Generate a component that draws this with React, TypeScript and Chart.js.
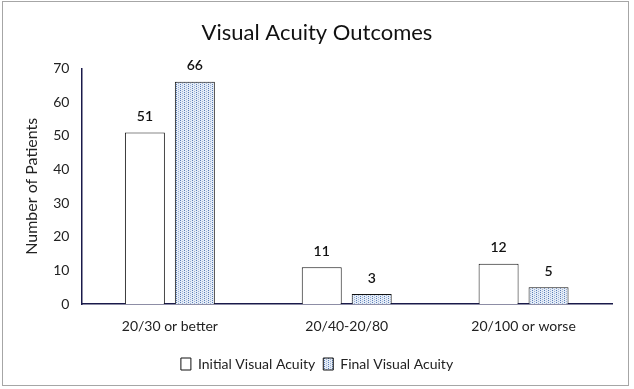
import React, { useEffect, useRef } from "react";
import { Chart, registerables } from "chart.js";

Chart.register(...registerables);

const categories = ["20/30 or better", "20/40-20/80", "20/100 or worse"];
const initialValues = [51, 11, 12];
const finalValues = [66, 3, 5];
const seriesNames = ["Initial Visual Acuity", "Final Visual Acuity"];
const yTicks = [0, 10, 20, 30, 40, 50, 60, 70];

const FONT = "Lato, 'Open Sans', sans-serif";

function makePattern(): CanvasPattern | string {
  const c = document.createElement("canvas");
  c.width = 4;
  c.height = 4;
  const g = c.getContext("2d");
  if (!g) return "#dce6f2";
  g.fillStyle = "#e4ecf6";
  g.fillRect(0, 0, 4, 4);
  g.fillStyle = "#5b7db8";
  g.fillRect(0, 0, 1, 1);
  g.fillRect(0, 2, 1, 1);
  g.fillStyle = "#9fb4d8";
  g.fillRect(2, 1, 1, 1);
  g.fillRect(2, 3, 1, 1);
  const p = g.createPattern(c, "repeat");
  return p || "#dce6f2";
}

const labelPlugin = {
  id: "valueLabels",
  afterDatasetsDraw(chart: any) {
    const ctx = chart.ctx;
    ctx.save();
    ctx.font = `600 14px ${FONT}`;
    ctx.fillStyle = "#111";
    ctx.textAlign = "center";
    ctx.textBaseline = "bottom";
    chart.data.datasets.forEach((ds: any, i: number) => {
      const meta = chart.getDatasetMeta(i);
      meta.data.forEach((bar: any, j: number) => {
        ctx.fillText(String(ds.data[j]), bar.x, bar.y - 9);
      });
    });
    ctx.restore();
  },
};

export default function App() {
  const ref = useRef<HTMLCanvasElement>(null);
  useEffect(() => {
    document.body.style.margin = "0";
    if (!ref.current) return;
    const pattern = makePattern();
    const chart = new Chart(ref.current, {
      type: "bar",
      data: {
        labels: categories,
        datasets: [
          {
            label: seriesNames[0],
            data: initialValues,
            backgroundColor: "#ffffff",
            borderColor: "#111111",
            borderWidth: 1,
          },
          {
            label: seriesNames[1],
            data: finalValues,
            backgroundColor: pattern as any,
            borderColor: "#111111",
            borderWidth: 1,
          },
        ],
      },
      options: {
        animation: false,
        responsive: false,
        maintainAspectRatio: false,
        layout: { padding: { left: 22, right: 22, top: 8, bottom: 8 } },
        datasets: {
          bar: { categoryPercentage: 0.565, barPercentage: 0.8 },
        },
        plugins: {
          title: {
            display: true,
            text: "Visual Acuity Outcomes",
            color: "#111",
            font: { family: FONT, size: 22, weight: "normal" },
            padding: { top: 12, bottom: 22 },
          },
          legend: {
            position: "bottom",
            labels: {
              color: "#222",
              font: { family: FONT, size: 14 },
              boxWidth: 10,
              boxHeight: 12,
              padding: 8,
            },
          },
          tooltip: { enabled: false },
        },
        scales: {
          x: {
            grid: { display: false, drawTicks: false },
            border: { color: "#1a1a4a", width: 1.5 },
            ticks: { color: "#222", font: { family: FONT, size: 14 }, padding: 14 },
          },
          y: {
            min: 0,
            max: 70,
            afterBuildTicks: (axis: any) => {
              axis.ticks = yTicks.map((v) => ({ value: v }));
            },
            grid: { display: false, drawTicks: false },
            border: { color: "#1a1a4a", width: 1.5 },
            ticks: { color: "#222", font: { family: FONT, size: 14 }, padding: 12 },
            title: {
              display: true,
              text: "Number of Patients",
              color: "#222",
              font: { family: FONT, size: 16 },
              padding: { top: 0, bottom: 0 },
            },
          },
        },
      },
      plugins: [labelPlugin],
    });
    return () => chart.destroy();
  }, []);
  return (
    <div
      style={{
        position: "relative",
        width: 634,
        height: 389,
        boxSizing: "border-box",
        background: "#fff",
      }}
    >
      <div
        style={{
          position: "absolute",
          left: 2,
          top: 1,
          width: 627,
          height: 385,
          boxSizing: "border-box",
          border: "1px solid #a6a6a6",
        }}
      />
      <canvas ref={ref} width={634} height={389} style={{ position: "absolute", left: 0, top: 0 }} />
    </div>
  );
}
